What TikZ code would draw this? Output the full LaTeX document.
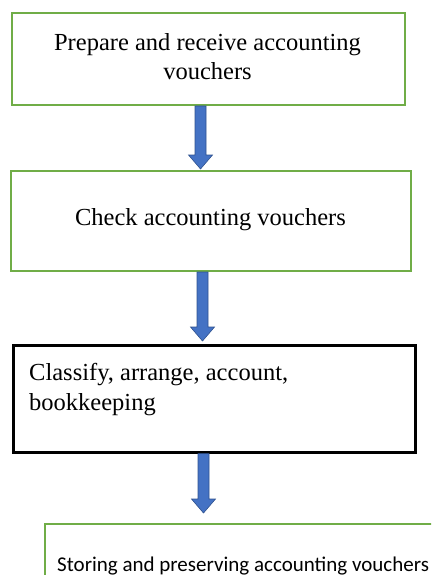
\documentclass[tikz,border=0pt]{standalone}
\usepackage{fontspec}
\setmainfont{Liberation Serif}
\newfontfamily\calibrifont{Carlito}
\usetikzlibrary{calc}
\definecolor{boxgreen}{RGB}{112,173,71}
\definecolor{arrowblue}{RGB}{68,114,196}
\definecolor{arrowdark}{RGB}{47,82,143}
\tikzset{
  greenbox/.style={draw=boxgreen, line width=2pt, fill=white, rectangle, anchor=north west, inner sep=0pt},
  blackbox/.style={draw=black, line width=2.6pt, fill=white, rectangle, anchor=north west, inner sep=0pt},
  seriftext/.style={font=\fontsize{24.5}{29}\selectfont, align=center},
  blockarrow/.style={fill=arrowblue, draw=arrowdark, line width=0.6pt, line join=miter},
}
% fat block arrow from coordinate #1 (top) to coordinate #2 (tip)
\newcommand\fatarrow[2]{%
  \path[blockarrow] ([xshift=-5.5pt]#1) -- ([xshift=5.5pt]#1) -- ([xshift=5.5pt,yshift=14pt]#2)
    -- ([xshift=12pt,yshift=14pt]#2) -- (#2) -- ([xshift=-12pt,yshift=14pt]#2)
    -- ([xshift=-5.5pt,yshift=14pt]#2) -- cycle;}
\begin{document}
\begin{tikzpicture}[x=1pt,y=-1pt]
\useasboundingbox (0,0) rectangle (431,575);
\clip (0,0) rectangle (431,575);
% boxes
\node[greenbox, minimum width=393pt, minimum height=92pt] (b1) at (11,12) {};
\node[seriftext, anchor=base] (t1) at (207.5,50.5) {Prepare and receive accounting};
\node[seriftext, anchor=base] (t1b) at (207.5,80) {vouchers};
\node[greenbox, minimum width=400pt, minimum height=100pt] (b2) at (10,170) {};
\node[seriftext, anchor=base] (t2) at (210.5,225) {Check accounting vouchers};
\node[blackbox, minimum width=402pt, minimum height=107pt] (b3) at (12,344) {};
\node[seriftext, anchor=base west, inner sep=0pt] (t3) at (29,380) {Classify, arrange, account,};
\node[seriftext, anchor=base west, inner sep=0pt] (t3b) at (29,410) {bookkeeping};
\node[greenbox, line width=1.5pt, minimum width=420pt, minimum height=100pt] (b4) at (44,523) {};
\node[font=\calibrifont\fontsize{21}{25}\selectfont, anchor=base west, inner sep=0pt] (t4) at (57,571) {Storing and preserving accounting vouchers};
% arrow anchor columns
\coordinate (c1) at (200.5,0);
\coordinate (c2) at (202.5,0);
\coordinate (c3) at (203.5,0);
\coordinate (s1) at (b1.south -| c1);
\coordinate (e1) at ([yshift=1pt]b2.north -| c1);
\coordinate (s2) at (b2.south -| c2);
\coordinate (e2) at ([yshift=3pt]b3.north -| c2);
\coordinate (s3) at (b3.south -| c3);
\coordinate (e3) at ([yshift=10pt]b4.north -| c3);
\fatarrow{s1}{e1}
\fatarrow{s2}{e2}
\fatarrow{s3}{e3}
\end{tikzpicture}
\end{document}
